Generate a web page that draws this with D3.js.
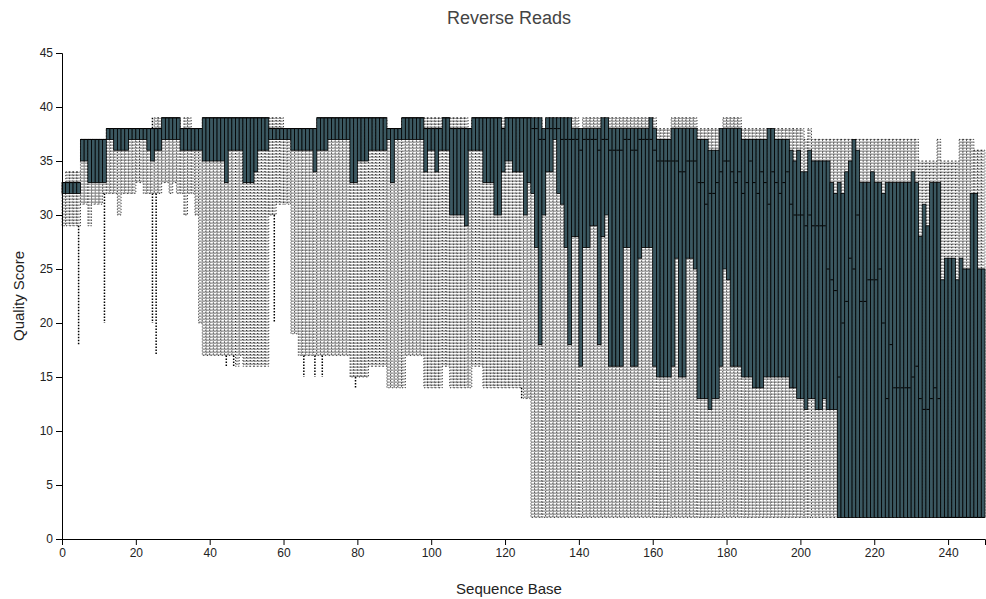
<!DOCTYPE html>
<html>
<head>
<meta charset="utf-8">
<script src="https://d3js.org/d3.v7.min.js"></script>
<style>
  body { margin: 0; background: #fff; }
  text { font-family: "Liberation Sans", Arial, sans-serif; }
</style>
</head>
<body>
<script>
// quality score percentiles per sequence base (0..249)

// 2nd percentile (bottom of lower whisker line)
var p2 = [
  29,29,29,29,18,31,31,29,31,31, 31,20,32,32,32,30,32,32,32,32,
  33,33,32,32,20,17,32,33,33,32, 33,32,32,30,32,32,30,20,17,17,
  17,17,17,17,16,17,16,16,17,16, 16,16,16,16,16,16,30,20,31,31,
  31,31,19,19,17,15,17,17,15,17, 15,17,17,17,17,17,17,17,15,14,
  15,15,15,16,16,16,16,16,14,14, 14,14,14,17,17,17,17,17,14,14,
  14,14,14,16,16,14,14,14,14,14, 14,16,16,16,14,14,14,14,14,14,
  14,14,14,14,13,13,13,2,2,2, 2,2,2,2,2,2,2,2,2,2,
  2,2,2,2,2,2,2,2,2,2, 2,2,2,2,2,2,2,2,2,2,
  2,2,2,2,2,2,2,2,2,2, 2,2,2,2,2,2,2,2,2,2,
  2,2,2,2,2,2,2,2,2,2, 2,2,2,2,2,2,2,2,2,2,
  2,2,2,2,2,2,2,2,2,2, 2,2,2,2,2,2,2,2,2,2,
  2,2,2,2,2,2,2,2,2,2, 2,2,2,2,2,2,2,2,2,2,
  2,2,2,2,2,2,2,2,2,2
];

// 9th percentile (bottom of dotted band)
var p9 = [
  29,29,29,29,29,31,31,29,31,31, 31,32,32,32,32,30,32,32,32,32,
  33,33,32,32,32,32,32,33,33,32, 33,32,32,30,32,32,30,20,17,17,
  17,17,17,17,17,17,17,16,17,16, 16,16,16,16,16,16,30,30,31,31,
  31,31,19,19,17,17,17,17,17,17, 17,17,17,17,17,17,17,17,15,15,
  15,15,15,16,16,16,16,16,14,14, 14,14,14,17,17,17,17,17,14,14,
  14,14,14,16,16,14,14,14,14,14, 14,16,16,16,14,14,14,14,14,14,
  14,14,14,14,14,13,13,2,2,2, 2,2,2,2,2,2,2,2,2,2,
  2,2,2,2,2,2,2,2,2,2, 2,2,2,2,2,2,2,2,2,2,
  2,2,2,2,2,2,2,2,2,2, 2,2,2,2,2,2,2,2,2,2,
  2,2,2,2,2,2,2,2,2,2, 2,2,2,2,2,2,2,2,2,2,
  2,2,2,2,2,2,2,2,2,2, 2,2,2,2,2,2,2,2,2,2,
  2,2,2,2,2,2,2,2,2,2, 2,2,2,2,2,2,2,2,2,2,
  2,2,2,2,2,2,2,2,2,2
];

// 25th percentile (box bottom)
var p25 = [
  32,32,32,32,32,35,35,33,33,33, 33,33,37,37,36,36,36,36,37,37,
  37,37,37,36,35,36,36,37,37,37, 37,37,36,36,36,36,36,36,35,35,
  35,35,35,35,33,36,36,36,36,33, 33,33,34,36,36,36,37,37,37,37,
  37,37,36,36,36,36,36,36,34,36, 36,36,37,37,37,37,37,37,33,33,
  35,35,35,36,36,36,36,36,37,33, 37,37,37,37,37,37,37,37,34,36,
  36,34,36,36,36,30,30,30,30,29, 36,36,36,36,33,33,33,30,30,34,
  35,35,34,34,34,30,33,32,27,18, 30,34,34,37,32,31,27,18,28,28,
  16,27,27,29,29,18,28,30,16,16, 16,16,27,27,16,16,26,27,27,27,
  16,15,15,15,15,16,26,15,15,26, 26,25,13,13,13,12,13,13,16,25,
  24,16,16,16,15,15,15,14,14,14, 15,15,15,15,15,15,15,14,14,13,
  13,12,13,13,12,12,13,12,12,12, 2,2,2,2,2,2,2,2,2,2,
  2,2,2,2,2,2,2,2,2,2, 2,2,2,2,2,2,2,2,2,2,
  2,2,2,2,2,2,2,2,2,2
];

// median
var p50 = [
  33,33,33,33,33,37,37,37,37,37, 37,37,38,38,38,38,38,38,38,38,
  38,38,38,38,38,38,38,39,39,39, 39,39,38,38,38,38,38,38,39,39,
  39,39,39,39,39,39,39,39,39,39, 39,39,39,39,39,39,38,38,38,38,
  38,38,38,38,38,38,38,38,38,39, 39,39,39,39,39,39,39,39,39,39,
  39,39,39,39,39,39,39,39,38,38, 38,38,39,39,39,39,39,39,38,38,
  38,38,38,39,39,38,38,38,38,38, 38,39,39,39,39,39,39,39,39,38,
  39,39,39,39,39,39,39,38,38,37, 37,38,38,38,38,37,37,37,37,37,
  36,37,37,37,37,36,37,37,36,36, 36,36,37,37,36,36,37,37,37,37,
  36,35,35,35,35,35,35,34,34,35, 35,35,33,33,31,32,32,33,34,35,
  35,34,33,34,32,33,35,33,32,34, 33,31,34,33,32,33,34,31,30,30,
  30,29,30,29,29,29,29,25,24,23, 15,20,22,26,25,30,22,22,24,24,
  24,25,20,13,18,14,14,14,14,14, 15,16,13,12,12,13,14,13,2,2,
  2,2,2,2,2,2,2,2,2,2
];

// 75th percentile (box top)
var p75 = [
  33,33,33,33,33,37,37,37,37,37, 37,37,38,38,38,38,38,38,38,38,
  38,38,38,38,38,38,38,39,39,39, 39,39,38,38,38,38,38,38,39,39,
  39,39,39,39,39,39,39,39,39,39, 39,39,39,39,39,39,38,38,38,38,
  38,38,38,38,38,38,38,38,38,39, 39,39,39,39,39,39,39,39,39,39,
  39,39,39,39,39,39,39,39,38,38, 38,38,39,39,39,39,39,39,38,38,
  38,38,38,39,39,38,38,38,38,38, 38,39,39,39,39,39,39,39,39,38,
  39,39,39,39,39,39,39,39,39,39, 38,39,39,39,39,39,39,39,38,38,
  38,38,38,38,38,38,39,39,38,38, 38,38,38,38,38,38,38,38,38,39,
  38,37,37,37,37,38,38,38,38,38, 38,38,37,37,37,36,36,36,38,38,
  38,38,38,38,37,37,37,37,37,37, 37,38,38,37,37,37,37,36,35,36,
  34,34,36,35,35,35,35,35,33,32, 33,32,34,35,37,36,33,33,33,34,
  33,33,32,33,33,33,33,33,33,33, 34,33,28,31,29,33,33,33,24,26,
  26,26,24,26,25,25,32,32,25,25
];

// 91st percentile (top of dotted band)
var p91 = [
  33,34,34,34,34,37,37,37,37,37, 37,37,38,38,38,38,38,38,38,38,
  38,38,38,38,38,39,39,39,39,39, 39,39,38,39,39,38,38,38,39,39,
  39,39,39,39,39,39,39,39,39,39, 39,39,39,39,39,39,39,39,39,39,
  38,38,38,38,38,38,38,38,38,39, 39,39,39,39,39,39,39,39,39,39,
  39,39,39,39,39,39,39,39,38,38, 38,38,39,39,39,39,39,39,39,39,
  39,39,39,39,39,39,39,39,39,39, 38,39,39,39,39,39,39,39,39,39,
  39,39,39,39,39,39,39,39,39,39, 38,39,39,39,39,39,39,39,39,39,
  38,39,39,39,39,39,39,39,39,39, 39,39,39,39,39,39,39,39,39,39,
  39,38,38,38,38,39,39,39,39,39, 39,39,38,38,38,38,38,38,38,39,
  39,39,39,39,38,38,38,38,38,38, 38,38,38,38,38,38,38,38,38,38,
  38,37,38,37,37,37,37,37,37,37, 37,37,37,37,37,37,37,37,37,37,
  37,37,37,37,37,37,37,37,37,37, 37,37,35,35,35,35,35,37,35,35,
  35,35,35,37,37,37,37,36,36,36
];

// 98th percentile (top of upper whisker line)
var p98 = [
  33,34,34,34,34,37,37,37,37,37, 37,37,38,38,38,38,38,38,38,38,
  38,38,38,38,39,39,39,39,39,39, 39,39,38,39,39,38,38,38,39,39,
  39,39,39,39,39,39,39,39,39,39, 39,39,39,39,39,39,39,39,39,39,
  38,38,38,38,38,38,38,38,38,39, 39,39,39,39,39,39,39,39,39,39,
  39,39,39,39,39,39,39,39,38,38, 38,38,39,39,39,39,39,39,39,39,
  39,39,39,39,39,39,39,39,39,39, 38,39,39,39,39,39,39,39,39,39,
  39,39,39,39,39,39,39,39,39,39, 38,39,39,39,39,39,39,39,39,39,
  38,39,39,39,39,39,39,39,39,39, 39,39,39,39,39,39,39,39,39,39,
  39,38,38,38,38,39,39,39,39,39, 39,39,38,38,38,38,38,38,38,39,
  39,39,39,39,38,38,38,38,38,38, 38,38,38,38,38,38,38,38,38,38,
  38,37,38,37,37,37,37,37,37,37, 37,37,37,37,37,37,37,37,37,37,
  37,37,37,37,37,37,37,37,37,37, 37,37,35,35,35,35,35,37,35,35,
  35,35,35,37,37,37,37,36,36,36
];

var xTicks = [0, 20, 40, 60, 80, 100, 120, 140, 160, 180, 200, 220, 240];
var yTicks = [0, 5, 10, 15, 20, 25, 30, 35, 40, 45];

// set properties for the graph
var w = 986;
var h = 599;
var start_w = 62;
var end_w = 985;
var start_h = 53;
var end_h = 539;

window.onload = function() {

  // build one record per base
  var data = p25.map(function(d, i) {
    return {
      'base': i,
      'p2': p2[i], 'p9': p9[i], 'p25': p25[i], 'p50': p50[i],
      'p75': p75[i], 'p91': p91[i], 'p98': p98[i]
    };
  });

  var xScale = d3.scaleLinear()
                 .domain([0, 250])
                 .range([start_w, end_w]);

  var yScale = d3.scaleLinear()
                 .domain([0, 45])
                 .range([end_h, start_h]);

  drawPlot(data, xScale, yScale);
};

function drawPlot(data, xScale, yScale) {

  var bw = xScale(1) - xScale(0);

  var svg = d3.select("body")
              .append("svg")
              .attr("width", w)
              .attr("height", h);

  // dotted fill for the whisker band
  var pat = svg.append("defs")
               .append("pattern")
               .attr("id", "dots")
               .attr("patternUnits", "userSpaceOnUse")
               .attr("x", start_w)
               .attr("y", 0)
               .attr("width", bw)
               .attr("height", 3);
  pat.append("rect")
     .attr("width", bw).attr("height", 3).attr("fill", "#fff");
  pat.append("rect")
     .attr("x", 0.3).attr("y", 0.5).attr("width", 1.1).attr("height", 1.3)
     .attr("fill", "#222");
  pat.append("rect")
     .attr("x", 2.1).attr("y", 0.5).attr("width", 1.1).attr("height", 1.3)
     .attr("fill", "#666");

  // whisker band 9th..91st
  svg.append("g")
     .selectAll("rect")
     .data(data)
     .enter()
     .append("rect")
     .attr("x", function(d) { return xScale(d.base); })
     .attr("width", bw)
     .attr("y", function(d) { return yScale(d.p91); })
     .attr("height", function(d) { return yScale(d.p9) - yScale(d.p91); })
     .attr("fill", "url(#dots)")
     .attr("stroke", "#000")
     .attr("stroke-width", 0.8)
     .attr("stroke-dasharray", "1,2");

  // lower whisker lines 2nd..9th
  svg.append("g")
     .selectAll("line")
     .data(data.filter(function(d) { return d.p2 < d.p9; }))
     .enter()
     .append("line")
     .attr("x1", function(d) { return xScale(d.base + 0.5); })
     .attr("x2", function(d) { return xScale(d.base + 0.5); })
     .attr("y1", function(d) { return yScale(d.p9); })
     .attr("y2", function(d) { return yScale(d.p2); })
     .attr("stroke", "#000")
     .attr("stroke-width", 1.5)
     .attr("stroke-dasharray", "1.5,1.5");

  // upper whisker lines 91st..98th
  svg.append("g")
     .selectAll("line")
     .data(data.filter(function(d) { return d.p98 > d.p91; }))
     .enter()
     .append("line")
     .attr("x1", function(d) { return xScale(d.base + 0.5); })
     .attr("x2", function(d) { return xScale(d.base + 0.5); })
     .attr("y1", function(d) { return yScale(d.p98); })
     .attr("y2", function(d) { return yScale(d.p91); })
     .attr("stroke", "#000")
     .attr("stroke-width", 1.5)
     .attr("stroke-dasharray", "1.5,1.5");

  // boxes 25th..75th
  svg.append("g")
     .selectAll("rect")
     .data(data)
     .enter()
     .append("rect")
     .attr("x", function(d) { return xScale(d.base); })
     .attr("width", bw)
     .attr("y", function(d) { return yScale(d.p75); })
     .attr("height", function(d) { return yScale(d.p25) - yScale(d.p75); })
     .attr("fill", "#3b5861")
     .attr("stroke", "#000")
     .attr("stroke-width", 0.8);

  // medians
  svg.append("g")
     .selectAll("line")
     .data(data)
     .enter()
     .append("line")
     .attr("x1", function(d) { return xScale(d.base) + 0.5; })
     .attr("x2", function(d) { return xScale(d.base + 1) - 0.5; })
     .attr("y1", function(d) { return yScale(d.p50); })
     .attr("y2", function(d) { return yScale(d.p50); })
     .attr("stroke", "#000")
     .attr("stroke-width", 1);

  // axes
  var xAxis = svg.append("g")
     .attr("transform", "translate(0, " + end_h + ")")
     .call(d3.axisBottom(xScale).tickValues(xTicks));

  var yAxis = svg.append("g")
     .attr("transform", "translate(" + start_w + ", 0)")
     .call(d3.axisLeft(yScale).tickValues(yTicks));

  [xAxis, yAxis].forEach(function(a) {
    a.selectAll("text")
     .style("font-family", "'Liberation Sans', Arial, sans-serif")
     .style("font-size", "12px")
     .attr("fill", "#222");
  });

  // title and axis labels
  svg.append("text")
     .attr("x", 509)
     .attr("y", 24)
     .attr("text-anchor", "middle")
     .style("font-size", "18px")
     .attr("fill", "#444")
     .text("Reverse Reads");

  svg.append("text")
     .attr("x", 509)
     .attr("y", 594)
     .attr("text-anchor", "middle")
     .style("font-size", "15px")
     .attr("fill", "#222")
     .text("Sequence Base");

  svg.append("text")
     .attr("transform", "translate(24, 296) rotate(-90)")
     .attr("text-anchor", "middle")
     .style("font-size", "15px")
     .attr("fill", "#222")
     .text("Quality Score");
}
</script>
</body>
</html>
